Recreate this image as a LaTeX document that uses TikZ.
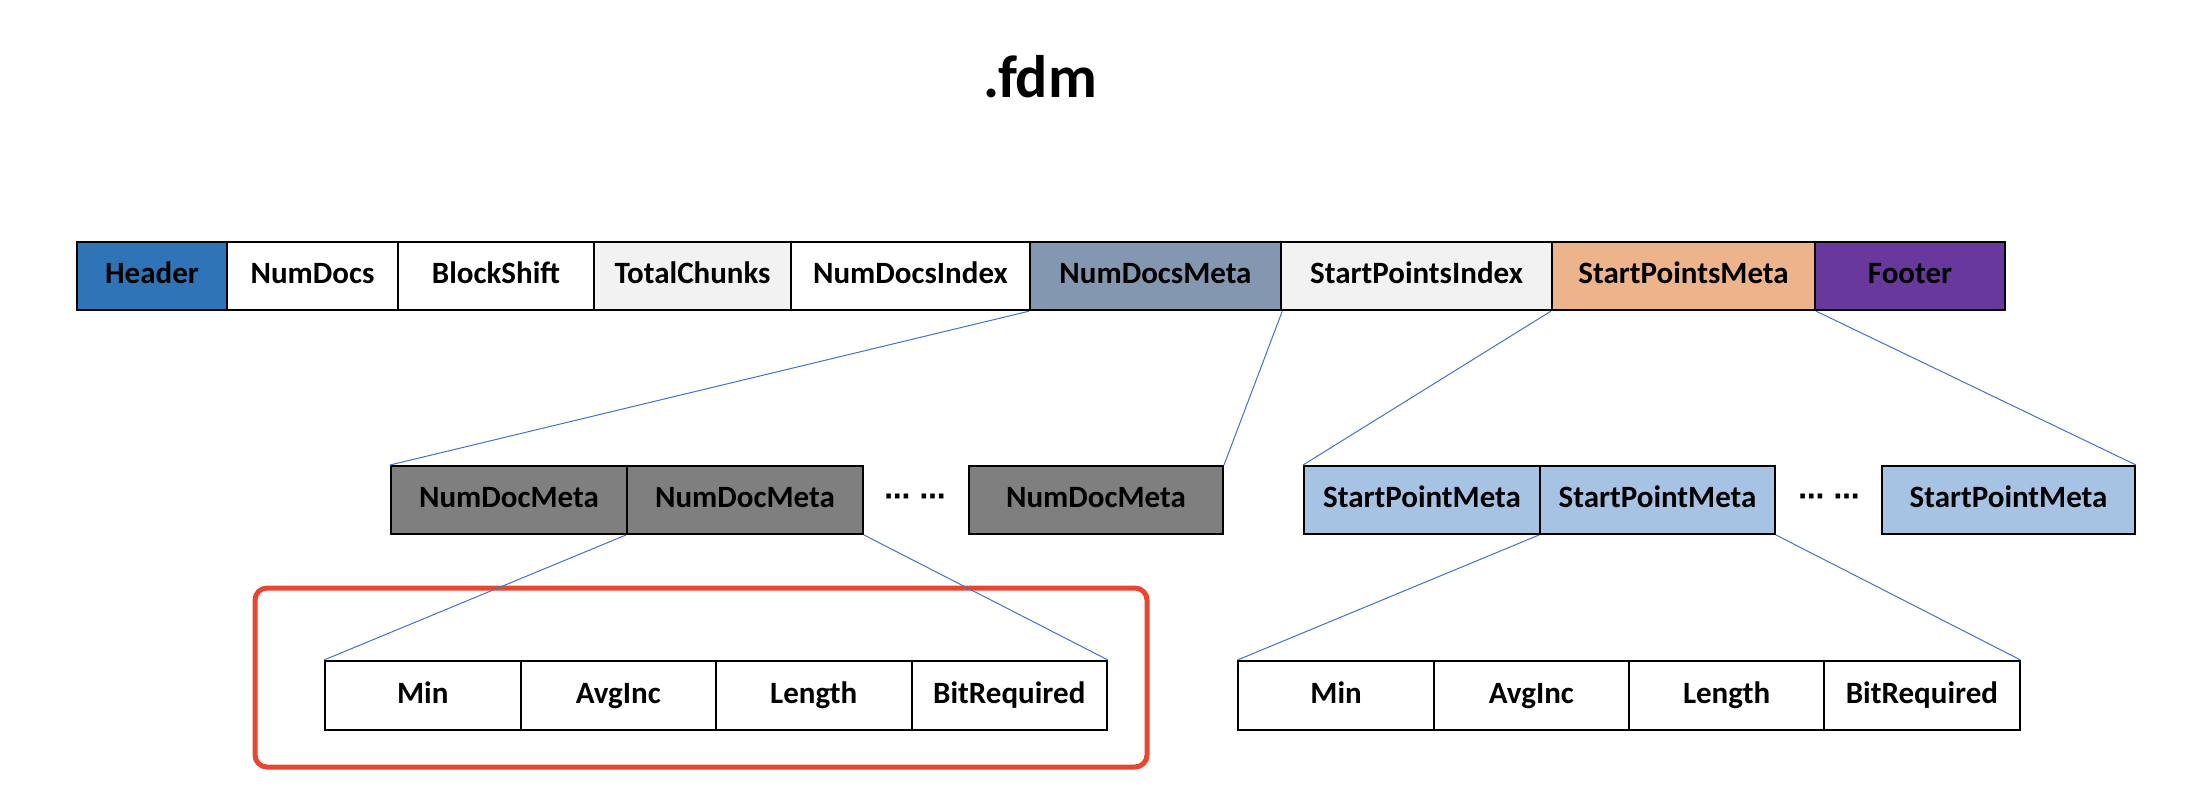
\documentclass[tikz,border=0pt]{standalone}
\usepackage{fontspec}
\setmainfont{Carlito}
\newfontfamily\dotsfont{DejaVu Sans}
\definecolor{hdrblue}{HTML}{2E74B7}
\definecolor{lgray}{HTML}{F2F2F2}
\definecolor{ndmcol}{HTML}{8497B0}
\definecolor{spmcol}{HTML}{EDB38A}
\definecolor{ftrcol}{HTML}{68389D}
\definecolor{nmgray}{HTML}{7F7F7F}
\definecolor{spblue}{HTML}{A6C3E4}
\definecolor{linkblue}{HTML}{4472C4}
\definecolor{framered}{HTML}{EA4530}
\begin{document}
\begin{tikzpicture}[x=1pt,y=-1pt,
  cellbox/.style={draw=black, line width=2.5pt, minimum height=68pt, inner sep=0pt,
    text height=21pt, text depth=6pt,
    font=\fontsize{31}{36}\selectfont\bfseries, text=black},
  subbox/.style={cellbox, line width=2pt},
  conn/.style={draw=linkblue, line width=1pt},
  dotsnode/.style={inner sep=0pt, font=\dotsfont\fontsize{26}{30}\selectfont\bfseries}]
\useasboundingbox (0,0) rectangle (2196,806);
% title
\node[font=\fontsize{60}{70}\selectfont\bfseries] (title) at (1040,77) {.fdm};
% top bar
\node[cellbox, fill=hdrblue, minimum width=150pt] (hdr) at (152,276) {Header};
\node[cellbox, fill=white, minimum width=171pt] (nd) at (312.5,276) {NumDocs};
\node[cellbox, fill=white, minimum width=196pt] (bs) at (496,276) {BlockShift};
\node[cellbox, fill=lgray, minimum width=197pt] (tc) at (692.5,276) {TotalChunks};
\node[cellbox, fill=white, minimum width=239pt] (ndi) at (910.5,276) {NumDocsIndex};
\node[cellbox, fill=ndmcol, minimum width=251pt] (ndm) at (1155.5,276) {NumDocsMeta};
\node[cellbox, fill=lgray, minimum width=271pt] (spi) at (1416.5,276) {StartPointsIndex};
\node[cellbox, fill=spmcol, minimum width=263pt] (spm) at (1683.5,276) {StartPointsMeta};
\node[cellbox, fill=ftrcol, minimum width=190pt] (ftr) at (1910,276) {Footer};
% row 2 left
\node[subbox, fill=nmgray, minimum width=236pt] (nm1) at (509,500) {NumDocMeta};
\node[subbox, fill=nmgray, minimum width=236pt] (nm2) at (745,500) {NumDocMeta};
\node[dotsnode] (ndots) at (915,500) {⋯ ⋯};
\node[subbox, fill=nmgray, minimum width=254pt] (nm3) at (1096,500) {NumDocMeta};
% row 2 right
\node[subbox, fill=spblue, minimum width=236pt] (sp1) at (1422,500) {StartPointMeta};
\node[subbox, fill=spblue, minimum width=235pt] (sp2) at (1657.5,500) {StartPointMeta};
\node[dotsnode] (sdots) at (1829,500) {⋯ ⋯};
\node[subbox, fill=spblue, minimum width=253pt] (sp3) at (2008.5,500) {StartPointMeta};
% red frame
\node[draw=framered, line width=5pt, rounded corners=12pt, minimum width=892pt, minimum height=179pt, inner sep=0pt] (frame) at (701,677.5) {};
% row 3 left
\node[subbox, fill=white, minimum width=195.5pt, minimum height=69pt] (l1) at (422.75,695.5) {Min};
\node[subbox, fill=white, minimum width=195.5pt, minimum height=69pt] (l2) at (618.25,695.5) {AvgInc};
\node[subbox, fill=white, minimum width=195.5pt, minimum height=69pt] (l3) at (813.75,695.5) {Length};
\node[subbox, fill=white, minimum width=195.5pt, minimum height=69pt] (l4) at (1009.25,695.5) {BitRequired};
% row 3 right
\node[subbox, fill=white, minimum width=195.25pt, minimum height=69pt] (r1) at (1336.1,695.5) {Min};
\node[subbox, fill=white, minimum width=195.25pt, minimum height=69pt] (r2) at (1531.4,695.5) {AvgInc};
\node[subbox, fill=white, minimum width=195.25pt, minimum height=69pt] (r3) at (1726.6,695.5) {Length};
\node[subbox, fill=white, minimum width=195.25pt, minimum height=69pt] (r4) at (1921.9,695.5) {BitRequired};
% connectors
\draw[conn] (ndm.south west) -- (nm1.north west);
\draw[conn] (ndm.south east) -- (nm3.north east);
\draw[conn] (spm.south west) -- (sp1.north west);
\draw[conn] (spm.south east) -- (sp3.north east);
\draw[conn] (nm2.south west) -- (l1.north west);
\draw[conn] (nm2.south east) -- (l4.north east);
\draw[conn] (sp2.south west) -- (r1.north west);
\draw[conn] (sp2.south east) -- (r4.north east);
\end{tikzpicture}
\end{document}
